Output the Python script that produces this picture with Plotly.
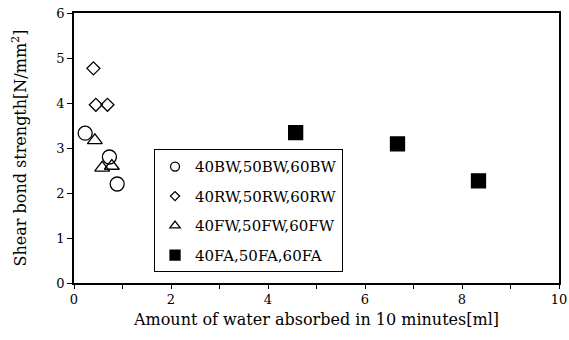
import plotly.graph_objects as go

bw_x = [0.23, 0.73, 0.89]
bw_y = [3.33, 2.80, 2.20]
rw_x = [0.40, 0.45, 0.69]
rw_y = [4.77, 3.96, 3.96]
fw_x = [0.43, 0.58, 0.78]
fw_y = [3.17, 2.56, 2.60]
fa_x = [4.57, 6.67, 8.34]
fa_y = [3.34, 3.09, 2.27]

names = ["40BW,50BW,60BW", "40RW,50RW,60RW", "40FW,50FW,60FW", "40FA,50FA,60FA"]

FONT = "DejaVu Serif"

fig = go.Figure()
series = [
    (bw_x, bw_y, "circle-open", 14, 9),
    (rw_x, rw_y, "diamond-open", 10, 7),
    (fw_x, fw_y, "triangle-up-open", 13, 9),
    (fa_x, fa_y, "square", 14, 10),
]
for i, (xs, ys, sym, sz, lsz) in enumerate(series):
    fig.add_trace(go.Scatter(
        x=xs, y=ys, mode="markers", name=names[i], showlegend=False,
        marker=dict(symbol=sym, size=sz, color="black", line=dict(color="black", width=1.3)),
    ))
    # legend-only entry with smaller symbol
    fig.add_trace(go.Scatter(
        x=[None], y=[None], mode="markers", name=names[i], legendgroup=str(i),
        marker=dict(symbol=sym, size=lsz, color="black", line=dict(color="black", width=1.3)),
    ))

fig.update_layout(
    width=569, height=340,
    margin=dict(l=74, r=10, t=13, b=57, autoexpand=False),
    paper_bgcolor="white", plot_bgcolor="white",
    font=dict(family=FONT, size=13, color="black"),
    showlegend=True,
    legend=dict(
        x=0.165, y=0.495, xanchor="left", yanchor="top",
        bordercolor="black", borderwidth=1, bgcolor="white",
        font=dict(family=FONT, size=15),
        itemwidth=30, tracegroupgap=7,
    ),
    xaxis=dict(
        range=[0, 10], dtick=2, tick0=0,
        showline=True, linecolor="black", linewidth=1.5, mirror=True,
        ticks="outside", ticklen=4, tickcolor="black", tickwidth=1.2,
        minor=dict(dtick=1, ticks="outside", ticklen=4, tickcolor="black", tickwidth=1.2),
        showgrid=False, zeroline=False, automargin=False,
        tickfont=dict(family=FONT, size=13),
        title=dict(text="Amount of water absorbed in 10 minutes[ml]", font=dict(family=FONT, size=16), standoff=7),
    ),
    yaxis=dict(
        range=[0, 6], dtick=1, tick0=0,
        showline=True, linecolor="black", linewidth=1.8, mirror=True,
        ticks="outside", ticklen=5, tickcolor="black", tickwidth=1.2,
        showgrid=False, zeroline=False, automargin=False,
        tickfont=dict(family=FONT, size=13),
        title=dict(text="Shear bond strength[N/mm<sup>2</sup>]", font=dict(family=FONT, size=16), standoff=26),
    ),
)

fig.write_html("out.html", config={"displayModeBar": False},
               post_script="document.body.style.margin='0';")
